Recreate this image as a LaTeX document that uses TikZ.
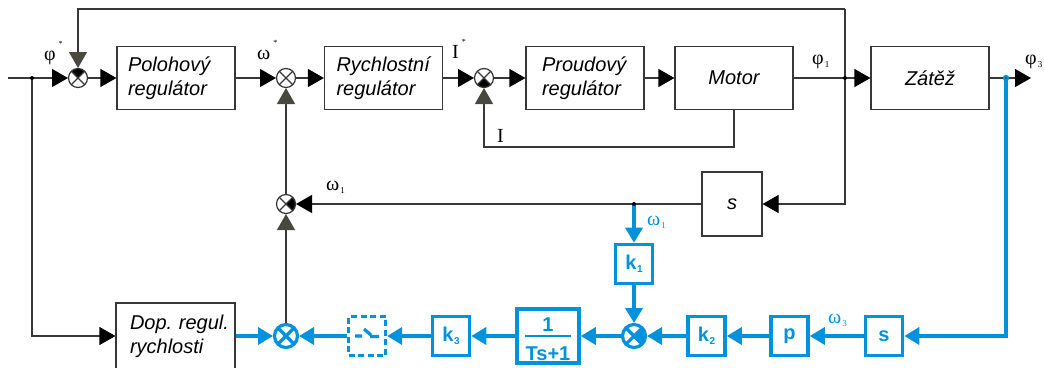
\documentclass[tikz,border=0pt]{standalone}
\usepackage{fontspec}
\setmainfont{Liberation Serif}
\setsansfont{Liberation Sans}
\usetikzlibrary{arrows.meta}
\definecolor{lineblue}{RGB}{0,146,221}
\definecolor{tipgray}{RGB}{72,72,64}
\definecolor{linegray}{RGB}{55,55,55}
% small subscripts and stars for signal labels
\newcommand\lsub[1]{\kern1pt\raisebox{-3pt}{\fontsize{9}{9}\selectfont #1}}
\newcommand\lstar{\kern3pt\raisebox{14pt}{\fontsize{8}{8}\selectfont *}}
\newcommand\bsub[1]{\kern0.5pt\raisebox{-3pt}{\fontsize{10}{10}\selectfont\bfseries #1}}
% summing junction: circle with a cross, optional filled quadrant
\newcommand\junction[5]{%
  \begin{scope}
    \clip (#1.center) circle (#3);
    #5
    \draw[#2, line width=#4] ([shift={(-20pt,-20pt)}]#1.center) -- ([shift={(20pt,20pt)}]#1.center)
      ([shift={(-20pt,20pt)}]#1.center) -- ([shift={(20pt,-20pt)}]#1.center);
  \end{scope}
  \draw[#2, line width=#4] (#1.center) circle (#3);
}
\tikzset{
  sig/.style={draw=linegray, line width=1.2pt},
  bsig/.style={draw=lineblue, line width=3.6pt},
  tip/.style={-{Triangle[length=16pt,width=18pt,color=black]}},
  gtip/.style={-{Triangle[length=16pt,width=18pt,color=tipgray]}},
  btip/.style={-{Triangle[length=15pt,width=17pt,color=lineblue]}},
  blk/.style={draw=linegray, line width=1.2pt, minimum width=118pt, minimum height=63pt,
    inner ysep=0pt, align=left, font=\sffamily\itshape\fontsize{20}{24}\selectfont},
  blkc/.style={draw=linegray, line width=1.2pt, minimum width=118pt, minimum height=63pt,
    inner sep=0pt, font=\sffamily\itshape\fontsize{20}{24}\selectfont},
  bbox/.style={draw=lineblue, line width=3.6pt, minimum width=37pt, minimum height=39pt,
    inner sep=0pt, text=lineblue, font=\sffamily\bfseries\fontsize{20}{24}\selectfont},
  btxt/.style={inner sep=0pt, text=lineblue, font=\sffamily\bfseries\fontsize{20}{24}\selectfont},
  sumj/.style={circle, fill=white, minimum size=20pt, inner sep=0pt, outer sep=0pt},
  bsumj/.style={circle, fill=white, minimum size=26pt, inner sep=0pt, outer sep=0pt},
  lbl/.style={inner sep=0pt, anchor=base west, font=\fontsize{20}{24}\selectfont},
  blbl/.style={lbl, text=lineblue},
}
\begin{document}
\begin{tikzpicture}[x=1pt,y=-1pt]
\fill[white] (0,0) rectangle (1044,367);
\useasboundingbox (0,0) rectangle (1044,367);

% blocks of the main loop
\node[blk, text width=96pt, inner xsep=11pt] (Pol) at (176,78) {Polohový\\regulátor};
\node[blk, text width=94pt, inner xsep=12pt] (Ryc) at (383.5,78) {Rychlostní\\regulátor};
\node[blk, text width=86pt, inner xsep=16pt] (Pro) at (585,78) {Proudový\\regulátor};
\node[blkc] (Mot) at (734,78) {Motor};
\node[blkc] (Zat) at (930,78) {Zátěž};
\node[blkc, minimum width=60pt, minimum height=64pt] (sB) at (732,204) {s};
\node[blk, text width=91pt, inner xsep=14pt, minimum height=66pt] (Dop) at (175.5,336) {Dop.~regul.\\rychlosti};

% summing junctions
\node[sumj] (S1) at (78,78) {};
\node[sumj] (S2) at (286,78) {};
\node[sumj] (S3) at (484,78) {};
\node[sumj] (S4) at (286,204) {};
\node[bsumj] (S5) at (286,336) {};
\node[bsumj] (S6) at (634,336) {};

% blue correction path blocks
\node[bbox] (k1) at (634,264) {k\bsub{1}};
\node[bbox] (k2) at (706.5,336) {k\bsub{2}};
\node[bbox] (p) at (789.5,336) {p};
\node[bbox] (sBl) at (884,336) {s};
\node[bbox] (k3) at (451,336) {k\bsub{3}};
\node[bbox, minimum width=62pt, minimum height=54pt] (TF) at (548,336) {};
\node[btxt, anchor=base] (TFn) at (548,331) {1};
\node[btxt, anchor=base] (TFd) at (548,360) {Ts+1};
\draw[lineblue, line width=2.8pt] (TFd.west |- TF.center) -- (TFd.east |- TF.center);
\node[bbox, line width=3.2pt, dash pattern=on 6pt off 3.5pt] (Sw) at (367,336) {};
\draw[lineblue, line width=3.2pt]
  ([shift={(-12pt,0pt)}]Sw.center) -- ([shift={(-5pt,0pt)}]Sw.center)
  ([shift={(-3pt,7pt)}]Sw.center) -- ([shift={(4pt,1pt)}]Sw.center)
  ([shift={(3pt,-0.5pt)}]Sw.center) -- ([shift={(12pt,-0.5pt)}]Sw.center);

% branch points and line corners
\coordinate (in0) at (8,78);
\coordinate (d1) at (32,78);
\coordinate (d2) at (845,78);
\coordinate (d3) at (1006,78);
\coordinate (out) at (1031,78);
\coordinate (tr) at (845,9);
\coordinate (ifb) at (734,147);
\coordinate (d4) at (634,204);

% main signal lines
\draw[sig] (in0) -- (d1);
\draw[sig,tip] (d1) -- (S1.west);
\draw[sig,tip] (d1) |- (Dop.west);
\draw[sig,tip] (S1.east) -- (Pol.west);
\draw[sig,tip] (Pol.east) -- (S2.west);
\draw[sig,tip] (S2.east) -- (Ryc.west);
\draw[sig,tip] (Ryc.east) -- (S3.west);
\draw[sig,tip] (S3.east) -- (Pro.west);
\draw[sig,tip] (Pro.east) -- (Mot.west);
\draw[sig] (Mot.east) -- (d2);
\draw[sig,tip] (d2) -- (Zat.west);
\draw[sig,tip] (Zat.east) -- (out);
\draw[sig,gtip] (tr) -| (S1.north);
\draw[sig,tip] (tr) |- (sB.east);
\draw[sig,gtip] (Mot.south) -- (ifb) -| (S3.south);
\draw[sig,tip] (sB.west) -- (S4.east);
\draw[sig,gtip] (S4.north) -- (S2.south);
\draw[sig,gtip] (S5.north) -- (S4.south);

% blue correction path
\draw[bsig,btip] (d4) -- (k1.north);
\draw[bsig,btip] (k1.south) -- (S6.north);
\draw[bsig,btip] (d3) |- (sBl.east);
\draw[bsig,btip] (sBl.west) -- (p.east);
\draw[bsig,btip] (p.west) -- (k2.east);
\draw[bsig,btip] (k2.west) -- (S6.east);
\draw[bsig,btip] (S6.west) -- (TF.east);
\draw[bsig,btip] (TF.west) -- (k3.east);
\draw[bsig,btip] (k3.west) -- (Sw.east);
\draw[bsig,btip] (Sw.west) -- (S5.east);
\draw[bsig,btip] (Dop.east) -- (S5.west);

% junction symbols
\junction{S1}{linegray}{9.5pt}{1.2pt}{\fill[black] (S1.center) -- ++(-15pt,15pt) -- ++(30pt,0pt) -- cycle;}
\junction{S2}{linegray}{9.5pt}{1.2pt}{}
\junction{S3}{linegray}{9.5pt}{1.2pt}{\fill[black] (S3.center) -- ++(-15pt,-15pt) -- ++(30pt,0pt) -- cycle;}
\junction{S4}{linegray}{9.5pt}{1.2pt}{\fill[black] (S4.center) -- ++(15pt,15pt) -- ++(0pt,-30pt) -- cycle;}
\junction{S5}{lineblue}{11.5pt}{3.2pt}{}
\junction{S6}{lineblue}{11.5pt}{3.2pt}{\fill[lineblue] (S6.center) -- ++(15pt,15pt) -- ++(0pt,-30pt) -- cycle;}

% branch dots
\fill[black] (d1) circle (2pt);
\fill[black] (d2) circle (2pt);
\fill[black] (d4) circle (2pt);
\fill[lineblue] (d3) circle (3.2pt);
\fill[black!70] (d3) circle (1.2pt);

% signal labels
\node[lbl] (Lphi) at (44,60) {φ\lstar};
\node[lbl] (Lom) at (257,59) {ω\lstar};
\node[lbl] (LI) at (452,58) {I\lstar};
\node[lbl] (LIfb) at (497,142) {I};
\node[lbl] (Lphi1) at (812,64) {φ\lsub{1}};
\node[lbl] (Lphi3) at (1025,64) {φ\lsub{3}};
\node[lbl] (Lom1) at (326,190) {ω\lsub{1}};
\node[blbl] (Lom1b) at (647,225) {ω\lsub{1}};
\node[blbl] (Lom3) at (828,323) {ω\lsub{3}};
\end{tikzpicture}
\end{document}
